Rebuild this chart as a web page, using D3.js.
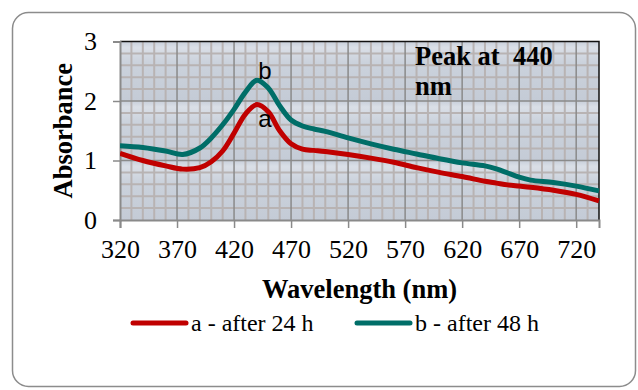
<!DOCTYPE html>
<html>
<head>
<meta charset="utf-8">
<script src="https://cdn.jsdelivr.net/npm/d3@7"></script>
<style>
  body { margin: 0; background: #fff; }
  text { font-family: "Liberation Serif", "Times New Roman", serif; fill: #000; }
</style>
</head>
<body>
<svg id="chart" width="638" height="390"></svg>
<script>
// wavelengths (nm)
var wavelength = [320, 340, 360, 375, 390, 400, 410, 420, 430, 440, 450, 460, 470, 480, 490, 500, 520, 540, 560, 580, 600, 620, 640, 650, 660, 670, 680, 700, 720, 740];
var after24 = [1.12, 1.00, 0.91, 0.855, 0.88, 0.98, 1.16, 1.46, 1.78, 1.94, 1.82, 1.50, 1.28, 1.19, 1.17, 1.15, 1.10, 1.04, 0.97, 0.88, 0.80, 0.73, 0.65, 0.62, 0.59, 0.57, 0.55, 0.50, 0.43, 0.32];
var after48 = [1.25, 1.22, 1.16, 1.10, 1.21, 1.38, 1.60, 1.86, 2.15, 2.35, 2.22, 1.92, 1.68, 1.58, 1.53, 1.49, 1.38, 1.28, 1.19, 1.11, 1.03, 0.96, 0.91, 0.86, 0.79, 0.72, 0.67, 0.63, 0.57, 0.49];
var xTicks = [320, 370, 420, 470, 520, 570, 620, 670, 720];
var yTicks = [0, 1, 2, 3];
var seriesNames = ["a - after 24 h", "b - after 48 h"];
var seriesTags = ["a", "b"];
var colors = ["#c00000", "#006e68"];

var svg = d3.select("#chart");

// outer frame
svg.append("rect")
    .attr("x", 12.5).attr("y", 12.5)
    .attr("width", 623).attr("height", 374)
    .attr("rx", 16).attr("ry", 16)
    .attr("fill", "#fff")
    .attr("stroke", "#8c8c8c")
    .attr("stroke-width", 1.5);

var pL = 120, pR = 599, pT = 41.5, pB = 220;

var x = d3.scaleLinear().domain([320, 740]).range([pL, pR]);
var y = d3.scaleLinear().domain([0, 3]).range([pB, pT]);

// banded plot background
var band = y(0) - y(1);
var defs = svg.append("defs");
var grad = defs.append("linearGradient").attr("id", "bandGrad")
    .attr("x1", 0).attr("y1", 0).attr("x2", 0).attr("y2", 1);
grad.append("stop").attr("offset", "0%").attr("stop-color", "#c8cfda");
grad.append("stop").attr("offset", "10%").attr("stop-color", "#dadfe7");
grad.append("stop").attr("offset", "35%").attr("stop-color", "#cbd2dc");
grad.append("stop").attr("offset", "100%").attr("stop-color", "#c4cbd6");
var pat = defs.append("pattern").attr("id", "bandPat")
    .attr("patternUnits", "userSpaceOnUse")
    .attr("x", pL).attr("y", pT)
    .attr("width", pR - pL).attr("height", band);
pat.append("rect").attr("width", pR - pL).attr("height", band).attr("fill", "url(#bandGrad)");

svg.append("rect")
    .attr("x", pL).attr("y", pT)
    .attr("width", pR - pL).attr("height", pB - pT)
    .attr("fill", "url(#bandPat)");

// minor grid
var g = svg.append("g");
g.selectAll(".vminor").data(d3.range(330, 740, 10).filter(function(d) { return (d - 320) % 50 != 0; }))
  .enter().append("line")
    .attr("x1", d => x(d)).attr("x2", d => x(d))
    .attr("y1", pT).attr("y2", pB)
    .attr("stroke", "#b8b3b3").attr("stroke-width", 2);
g.selectAll(".hminor").data(d3.range(0.2, 3, 0.2).filter(function(d) { return Math.abs(d - Math.round(d)) > 0.01; }))
  .enter().append("line")
    .attr("x1", pL).attr("x2", pR)
    .attr("y1", d => y(d)).attr("y2", d => y(d))
    .attr("stroke", "#b8b3b3").attr("stroke-width", 2);

// major grid
g.selectAll(".vmajor").data(xTicks.slice(1))
  .enter().append("line")
    .attr("x1", d => x(d)).attr("x2", d => x(d))
    .attr("y1", pT).attr("y2", pB)
    .attr("stroke", "#8a8a8a").attr("stroke-width", 1.5);
g.selectAll(".hmajor").data([1, 2])
  .enter().append("line")
    .attr("x1", pL).attr("x2", pR)
    .attr("y1", d => y(d)).attr("y2", d => y(d))
    .attr("stroke", "#8a8a8a").attr("stroke-width", 1.5);

// plot border top/right
svg.append("path")
    .attr("d", "M" + pL + "," + pT + "H" + pR + "V" + pB)
    .attr("fill", "none").attr("stroke", "#111").attr("stroke-width", 1.5);

// axes
var yAxis = svg.append("g").attr("transform", "translate(" + pL + ",0)")
    .call(d3.axisLeft(y).tickValues(yTicks).tickSize(7).tickPadding(16).tickFormat(d3.format("d")));
var xAxis = svg.append("g").attr("transform", "translate(0," + pB + ")")
    .call(d3.axisBottom(x).tickValues(xTicks).tickSize(8).tickPadding(12).tickFormat(d3.format("d")));
[yAxis, xAxis].forEach(function(a) {
    a.select(".domain").attr("stroke", "#8a8a8a").attr("stroke-width", 2);
    a.selectAll(".tick line").attr("stroke", "#8a8a8a").attr("stroke-width", 1.5);
    a.selectAll("text").attr("font-size", 26).attr("font-family", "Liberation Serif, serif").attr("fill", "#000");
});

// curves
var series = [after24, after48];
var line = d3.line()
    .x(function(d, i) { return x(wavelength[i]); })
    .y(function(d) { return y(d); })
    .curve(d3.curveCatmullRom.alpha(0.5));

var clip = defs.append("clipPath").attr("id", "plotClip");
clip.append("rect").attr("x", pL).attr("y", pT - 5).attr("width", pR - pL + 3).attr("height", pB - pT + 5);

series.forEach(function(s, k) {
    svg.append("path")
        .datum(s)
        .attr("d", line)
        .attr("fill", "none")
        .attr("stroke", colors[k])
        .attr("stroke-width", 5)
        .attr("stroke-linejoin", "round")
        .attr("clip-path", "url(#plotClip)");
});

// peak labels
var peakIdx = wavelength.indexOf(440);
svg.append("text")
    .attr("x", x(440) + 8).attr("y", y(after48[peakIdx]) - 1)
    .attr("text-anchor", "middle")
    .style("font-family", "Liberation Sans, Arial, sans-serif")
    .attr("font-size", 24)
    .text(seriesTags[1]);
svg.append("text")
    .attr("x", x(440) + 8).attr("y", y(after24[peakIdx]) + 22)
    .attr("text-anchor", "middle")
    .style("font-family", "Liberation Sans, Arial, sans-serif")
    .attr("font-size", 24)
    .text(seriesTags[0]);

// annotation
var note = svg.append("text")
    .attr("font-size", 26.5).attr("font-weight", "bold")
    .attr("xml:space", "preserve");
note.append("tspan").attr("x", 415).attr("y", 65).text("Peak at  440");
note.append("tspan").attr("x", 415).attr("y", 95).text("nm");

// axis titles
svg.append("text")
    .attr("x", (pL + pR) / 2).attr("y", 298)
    .attr("text-anchor", "middle")
    .attr("font-size", 26.5).attr("font-weight", "bold")
    .text("Wavelength (nm)");
svg.append("text")
    .attr("transform", "translate(72," + ((pT + pB) / 2) + ") rotate(-90)")
    .attr("text-anchor", "middle")
    .attr("font-size", 26.5).attr("font-weight", "bold")
    .text("Absorbance");

// legend
var legendX = [133, 357];
seriesNames.forEach(function(name, k) {
    var lg = svg.append("g").attr("transform", "translate(" + legendX[k] + ",323)");
    lg.append("line")
        .attr("x1", 0).attr("x2", 53)
        .attr("stroke", colors[k]).attr("stroke-width", 5)
        .attr("stroke-linecap", "round");
    lg.append("text")
        .attr("x", 58).attr("y", 8)
        .attr("font-size", 24)
        .text(name);
});
</script>
</body>
</html>
